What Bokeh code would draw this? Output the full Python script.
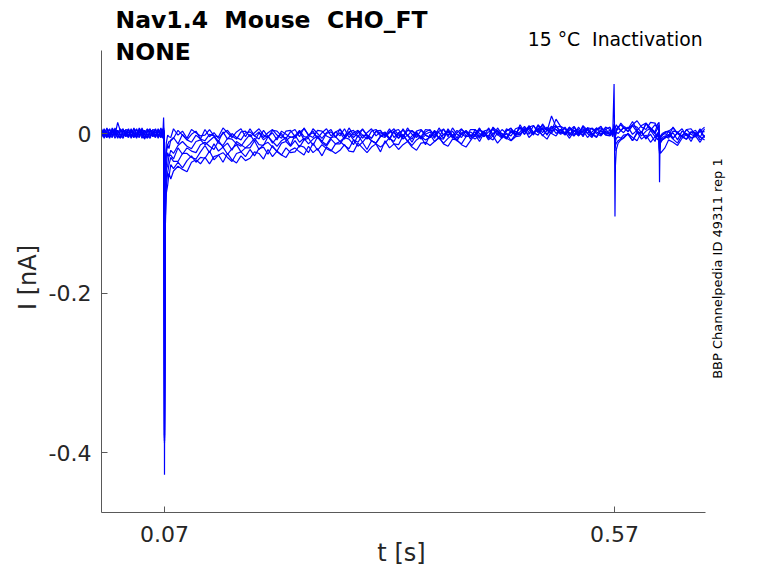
import numpy as np
from bokeh.plotting import figure
from bokeh.models import Range1d, FixedTicker, Label
from bokeh.embed import file_html
from bokeh.resources import INLINE

# time samples in ms
t_ms = [
    0, 3, 6, 9, 12, 15, 18, 21, 24, 27,
    30, 33, 36, 39, 42, 45, 48, 51, 54, 57,
    60, 63, 66, 68, 69, 69.5, 70, 70.5, 71, 72,
    73.5, 75, 77, 80, 85, 90, 95, 100, 105, 110,
    115, 120, 125, 130, 135, 140, 145, 150, 155, 160,
    165, 170, 175, 180, 185, 190, 195, 200, 205, 210,
    215, 220, 225, 230, 235, 240, 245, 250, 255, 260,
    265, 270, 275, 280, 285, 290, 295, 300, 305, 310,
    315, 320, 325, 330, 335, 340, 345, 350, 355, 360,
    365, 370, 375, 380, 385, 390, 395, 400, 405, 410,
    415, 420, 425, 430, 435, 440, 445, 450, 455, 460,
    465, 470, 475, 480, 485, 490, 495, 500, 505, 510,
    515, 520, 525, 530, 535, 540, 545, 550, 555, 560,
    565, 568, 569.5, 570, 570.5, 571, 572, 574, 577, 580,
    585, 590, 595, 600, 605, 610, 615, 618, 619.5, 620,
    620.5, 621, 623, 626, 630, 635, 640, 645, 650, 655,
    660, 665, 670,
]

# currents in pA, one list per sweep
sweep_a = [
    -3, 6, -5, 1, 4, -2, 14, 3, 5, -1,
    2, -6, 3, 5, -4, 7, -1, -5, 4, -2,
    -5, 3, 1, -6, 20, 2, -428, -160, -35, -12,
    -2, -4, -5, 6, -2, 3, -6, 5, 1, -3,
    -2, 5, -3, -4, 7, 1, -5, 2, 6, -4,
    6, -3, 2, -5, 1, 5, -2, -6, 3, 4,
    -4, 1, 6, -2, -5, 4, 3, -3, -6, 2,
    5, -4, 7, -2, 3, -6, 1, 6, -3, 2,
    -3, 6, -5, 1, 4, -2, -7, 3, 5, -1,
    2, -6, 3, 5, -4, 7, -1, -5, 4, -2,
    -4, 4, 2, -5, 7, -2, 5, 0, -3, 6,
    8, 3, -1, 10, 2, 7, -2, 9, 5, 1,
    1, 8, 0, -1, 10, 4, -2, 5, 9, -1,
    2, -1, 62, 5, 3, 8, 11, 7, 13, 9,
    6, 11, 16, 8, 5, 14, 13, 7, 4, -61,
    -15, -6, -2, 1, 3, -6, 1, 6, -3, 2,
    -3, 6, -5,
]
sweep_b = [
    2, -6, 3, 5, -4, 7, -1, -5, 4, -2,
    -5, 3, 1, -6, 6, -3, 4, -1, -4, 5,
    4, -1, -5, 6, -2, 0, -385, -120, -45, -20,
    -14, -10, -9, -6, 4, -2, -8, -1, 3, -7,
    5, -4, 1, -6, 0, 4, -3, -7, 2, 3,
    -4, 1, 6, -2, -5, 4, 3, -3, -6, 2,
    5, -4, 7, -2, 3, -6, 1, 6, -3, 2,
    -3, 6, -5, 1, 4, -2, -7, 3, 5, -1,
    2, -6, 3, 5, -4, 7, -1, -5, 4, -2,
    -5, 3, 1, -6, 6, -3, 4, -1, -4, 5,
    5, 0, -4, 7, -1, 4, -5, 6, 2, -2,
    2, 9, 1, 0, 11, 5, -1, 6, 10, 0,
    8, -1, 4, -3, 3, 7, 0, -4, 5, 6,
    -2, 3, 6, -3, -104, -40, -20, -12, -8, -6,
    0, -9, 2, -7, -2, -11, -4, 1, -8, -24,
    -14, -10, -8, -6, -1, -7, -12, -2, 0, -6,
    -3, -11, -2,
]
sweep_c = [
    -5, 3, 1, -6, 6, -3, 4, -1, -4, 5,
    4, -1, -5, 6, -2, 3, -6, 5, 1, -3,
    -2, 5, -3, -4, 7, 3, -380, -180, -75, -40,
    -24, -29, -21, -25, -15, -10, -16, -19, -10, -8,
    -14, -9, -4, -12, -15, -6, -7, -13, -16, -8,
    -1, -10, 1, -8, -3, -12, -5, 0, -9, -4,
    -6, 3, -8, -2, 1, -5, -10, 0, 2, -4,
    1, -7, 2, 4, -5, 6, -2, -6, 3, -3,
    -5, 3, 1, -6, 6, -3, 4, -1, -4, 5,
    4, -1, -5, 6, -2, 3, -6, 5, 1, -3,
    -1, 6, -2, -3, 8, 2, -4, 3, 7, -3,
    11, 2, 7, 0, 6, 10, 3, 22, 8, 9,
    -1, 4, 9, 1, -2, 7, 6, 0, -3, 5,
    8, -1, 10, -5, -14, -4, 5, 8, 11, 7,
    6, 15, 4, 10, 13, 7, 2, 12, 14, -22,
    -9, -4, -2, 0, -3, 8, 0, -4, 5, -1,
    -4, 4, 2,
]
sweep_d = [
    4, -1, -5, 6, -2, 3, -6, 5, 1, -3,
    -2, 5, -3, -4, 7, 1, -5, 2, 6, -4,
    6, -3, 2, -5, 1, -1, -382, -200, -90, -55,
    -49, -39, -30, -35, -35, -25, -25, -30, -32, -23,
    -15, -24, -13, -22, -17, -26, -19, -14, -23, -18,
    -18, -9, -20, -14, -11, -17, -22, -12, -10, -16,
    -9, -17, -8, -6, -15, -4, -12, -16, -7, -13,
    -13, -5, -7, -14, -2, -11, -4, -9, -12, -3,
    -1, -6, -10, 1, -7, -2, -11, 0, -4, -8,
    -5, 2, -6, -7, 4, -2, -8, -1, 3, -7,
    5, -4, 1, -6, 0, 4, -3, -7, 2, 3,
    -1, 4, 9, 1, -2, 7, 6, 0, -3, 5,
    6, -3, 8, -1, 4, -5, 2, 7, -2, 3,
    -2, 5, 8, -6, -18, -10, -6, -4, -6, -2,
    -1, -9, 0, 2, -7, 4, -4, -8, 1, -20,
    -14, -10, -7, -5, 3, -6, 1, -4, -7, 2,
    1, -4, -8,
]
sweep_e = [
    -2, 5, -3, -4, 7, 1, -5, 2, 6, -4,
    6, -3, 2, -5, 1, 5, -2, -6, 3, 4,
    -4, 1, 6, -2, -5, 1, -388, -230, -105, -65,
    -50, -54, -39, -44, -36, -43, -34, -28, -36, -30,
    -31, -22, -33, -27, -24, -30, -35, -25, -23, -29,
    -20, -28, -19, -17, -26, -15, -23, -27, -18, -24,
    -23, -15, -17, -24, -12, -21, -14, -19, -22, -13,
    -10, -15, -19, -8, -16, -11, -20, -9, -13, -17,
    -12, -5, -13, -14, -3, -9, -15, -8, -4, -14,
    -1, -10, -5, -12, -6, -2, -9, -13, -4, -3,
    -7, -2, 3, -5, -8, 1, 0, -6, -9, -1,
    8, -1, 10, 1, 6, -3, 4, 9, 0, 5,
    -1, 8, -3, 3, 6, 0, -5, 5, 7, 1,
    4, -4, 9, -2, -10, -2, 5, 9, 3, 8,
    2, 10, 8, 1, 13, 4, 11, 6, 3, -25,
    -16, -12, -8, -5, -4, 1, -8, 3, -1, -5,
    -4, 3, -5,
]
sweep_f = [
    6, -3, 2, -5, 1, 5, -2, -6, 3, 4,
    -4, 1, 6, -2, -5, 4, 3, -3, -6, 2,
    5, -4, 7, -2, 3, 0, -372, -250, -115, -75,
    -65, -50, -57, -47, -41, -45, -48, -36, -33, -38,
    -30, -38, -29, -27, -36, -25, -33, -37, -28, -34,
    -31, -23, -25, -32, -20, -29, -22, -27, -30, -21,
    -18, -23, -27, -16, -24, -19, -28, -17, -21, -25,
    -21, -14, -22, -23, -12, -18, -24, -17, -13, -23,
    -9, -18, -13, -20, -14, -10, -17, -21, -12, -11,
    -15, -10, -5, -13, -16, -7, -8, -14, -17, -9,
    -1, -10, 1, -8, -3, -12, -5, 0, -9, -4,
    -3, 6, -5, 1, 4, -2, -7, 3, 5, -1,
    2, -6, 3, 5, -4, 7, -1, -5, 4, -2,
    -3, 2, 5, -6, -22, -15, -12, -9, -7, -5,
    0, -5, -9, 2, -6, -1, -10, 1, -3, -22,
    -22, -25, -22, -18, -8, -11, -15, -6, -1, -10,
    1, -8, -3,
]
sweep_g = [
    -4, 1, 6, -2, -5, 4, 3, -3, -6, 2,
    5, -4, 7, -2, 3, -6, 1, 6, -3, 2,
    -3, 6, -5, 1, 4, -2, -386, -140, -55, -25,
    -14, -19, -8, -5, -13, -1, -8, -11, -2, -7,
    -9, -1, -3, -10, 2, -7, 0, -5, -8, 1,
    2, -3, -7, 4, -4, 1, -8, 3, -1, -5,
    -3, 4, -4, -5, 6, 0, -6, 1, 5, -5,
    6, -3, 2, -5, 1, 5, -2, -6, 3, 4,
    -4, 1, 6, -2, -5, 4, 3, -3, -6, 2,
    5, -4, 7, -2, 3, -6, 1, 6, -3, 2,
    -2, 7, -4, 2, 5, -1, -6, 4, 6, 0,
    7, -1, 8, 10, 1, 12, 4, 0, 9, 3,
    -2, 6, 4, -3, 9, 0, 7, 2, -1, 8,
    5, -2, 12, -4, -9, 0, 3, 6, 4, 7,
    3, 10, 2, 1, 12, 6, 0, 7, 11, -18,
    -8, -3, 0, 2, 3, 7, 0, -4, 5, 6,
    -2, 3, 8,
]
sweep_h = [
    5, -4, 7, -2, 3, -6, 1, 6, -3, 2,
    -3, 6, -5, 1, 4, -2, -7, 3, 5, -1,
    2, -6, 3, 5, -4, 4, -378, -210, -80, -45,
    -40, -28, -27, -32, -18, -26, -18, -22, -24, -14,
    -11, -16, -20, -9, -17, -12, -21, -10, -14, -18,
    -13, -6, -14, -15, -4, -10, -16, -9, -5, -15,
    -2, -11, -6, -13, -7, -3, -10, -14, -5, -4,
    -10, -5, 0, -8, -11, -2, -3, -9, -12, -4,
    1, -8, 3, -6, -1, -10, -3, 2, -7, -2,
    -5, 4, -7, -1, 2, -4, -9, 1, 3, -3,
    2, -6, 3, 5, -4, 7, -1, -5, 4, -2,
    -1, 7, 5, -2, 10, 1, 8, 3, 18, 9,
    6, 1, -3, 8, 0, 5, -4, 7, 3, -1,
    0, 4, 7, -3, -12, -3, 2, 0, 4, 1,
    8, -1, 4, -3, 3, 7, 0, -4, 5, -20,
    -12, -8, -5, -3, -6, 3, 2, -4, -7, 1,
    4, -5, 6,
]
sweeps = [sweep_a, sweep_b, sweep_c, sweep_d, sweep_e, sweep_f, sweep_g, sweep_h]

x_ticks = [0.07, 0.57]
x_tick_labels = ["0.07", "0.57"]
y_ticks = [-0.4, -0.2, 0.0]
y_tick_labels = ["-0.4", "-0.2", "0"]

NB2 = "\u00a0\u00a0"
title_line1 = "Nav1.4" + NB2 + "Mouse" + NB2 + "CHO_FT"
title_line2 = "NONE"
condition_text = "15 °C" + NB2 + "Inactivation"
source_text = "BBP Channelpedia ID 49311 rep 1"

FONT = "DejaVu Sans"
TXT = "#262626"
AX = "#595959"

# the frame covers the whole canvas; the axes sit at fixed data locations
p = figure(width=762, height=567, output_backend="svg", toolbar_location=None,
           title=None,
           x_range=Range1d(-0.1122, 0.7344), y_range=Range1d(-0.5442, 0.1668))
p.min_border = 0
p.min_border_left = 0
p.min_border_right = 0
p.min_border_top = 0
p.min_border_bottom = 0
p.outline_line_color = None
p.xgrid.visible = False
p.ygrid.visible = False

t_s = np.array(t_ms) / 1000.0
for sw in sweeps:
    p.line(t_s, np.array(sw) / 1000.0, line_color="#0000ff", line_width=1.2)

for ax in (p.xaxis[0], p.yaxis[0]):
    ax.axis_line_color = AX
    ax.axis_line_width = 1
    ax.major_tick_line_color = AX
    ax.major_tick_in = 6
    ax.major_tick_out = 0
    ax.minor_tick_line_color = None
    ax.major_label_text_font = FONT
    ax.major_label_text_font_size = "22px"
    ax.major_label_text_color = TXT

xa = p.xaxis[0]
xa.fixed_location = -0.4752
xa.bounds = (0.0, 0.6711)
xa.ticker = FixedTicker(ticks=x_ticks)
xa.major_label_overrides = dict(zip(x_ticks, x_tick_labels))
xa.major_label_standoff = 14
xa.axis_label = None

ya = p.yaxis[0]
ya.fixed_location = 0.0
ya.bounds = (-0.4752, 0.1041)
ya.ticker = FixedTicker(ticks=y_ticks)
ya.major_label_overrides = dict(zip(y_ticks, y_tick_labels))
ya.major_label_standoff = 10
ya.axis_label = None

p.add_layout(Label(x=0.3333, y=-0.5260, text="t [s]", text_align="center",
                   text_baseline="alphabetic", text_font=FONT, text_font_size="24px",
                   text_color=TXT))
p.add_layout(Label(x=-0.0822, y=-0.1806, text="I [nA]", angle=np.pi / 2,
                   text_align="center", text_baseline="alphabetic", text_font=FONT,
                   text_font_size="24px", text_color=TXT))
p.add_layout(Label(x=0.0156, y=0.1429, text=title_line1, text_align="left",
                   text_baseline="alphabetic", text_font=FONT, text_font_size="23.5px",
                   text_font_style="bold", text_color="black"))
p.add_layout(Label(x=0.0156, y=0.1020, text=title_line2, text_align="left",
                   text_baseline="alphabetic", text_font=FONT, text_font_size="23.5px",
                   text_font_style="bold", text_color="black"))
p.add_layout(Label(x=0.6678, y=0.1178, text=condition_text, text_align="right",
                   text_baseline="alphabetic", text_font=FONT, text_font_size="18.8px",
                   text_color="black"))
p.add_layout(Label(x=0.6845, y=-0.1693, text=source_text, angle=np.pi / 2,
                   text_align="center", text_baseline="middle", text_font=FONT,
                   text_font_size="13px", text_color="black"))

open("out.html", "w").write(file_html(p, INLINE))
